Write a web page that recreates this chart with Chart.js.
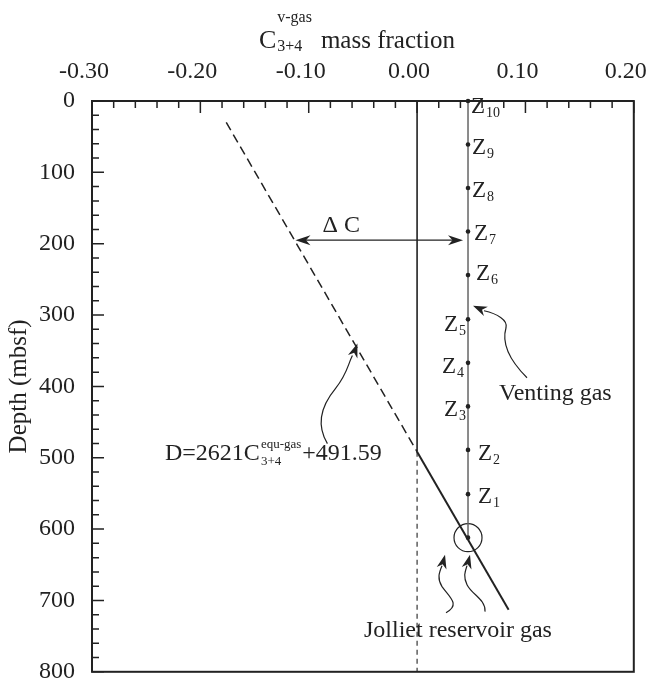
<!DOCTYPE html>
<html>
<head>
<meta charset="utf-8">
<script src="https://cdn.jsdelivr.net/npm/chart.js@4.4.0/dist/chart.umd.min.js"></script>
<style>
  html, body { margin: 0; padding: 0; background: #fff; }
  #wrap { width: 649px; height: 687px; }
</style>
</head>
<body>
<div id="wrap"><canvas id="chart"></canvas></div>
<script>
// venting gas samples Z10 ... Z1, then the reservoir point at the bottom
const ventDepths = [0, 61, 122, 183, 244, 306, 367, 428, 489, 551, 612];
const ventC = [0.047, 0.047, 0.047, 0.047, 0.047, 0.047, 0.047, 0.047, 0.047, 0.047, 0.047];
const zNames = ['10', '9', '8', '7', '6', '5', '4', '3', '2', '1'];
const reservoirDepth = 612;

// equilibrium line: D = 2621 C + 491.59
const eqSlope = 2621;
const eqIntercept = 491.59;
const eqDashedDepths = [30, 491.59];
const eqSolidDepths = [491.59, 713];

// C = 0 reference
const zeroSolidDepths = [0, 491.59];
const zeroDashedDepths = [491.59, 800];

const deltaDepth = 195;
const ventArrowDepth = 287;
const eqArrowDepth = 340;

const xTicks = [-0.30, -0.20, -0.10, 0.00, 0.10, 0.20];
const yTicks = [0, 100, 200, 300, 400, 500, 600, 700, 800];

const eqC = d => (d - eqIntercept) / eqSlope;

const serif = "'Liberation Serif', 'Times New Roman', serif";
const ink = '#222';

// label placement around each Z point (dx, dy in px)
const zOffsets = [[3, 12], [4, 9], [4, 9], [6, 8], [8, 5], [-24, 12], [-26, 10], [-24, 10], [10, 10], [10, 9]];

function head(ctx, tx, ty, fx, fy, len = 14, half = 5) {
  const ang = Math.atan2(ty - fy, tx - fx);
  const c = Math.cos(ang), s = Math.sin(ang);
  ctx.beginPath();
  ctx.moveTo(tx, ty);
  ctx.lineTo(tx - len * c + half * s, ty - len * s - half * c);
  ctx.lineTo(tx - len * 0.7 * c, ty - len * 0.7 * s);
  ctx.lineTo(tx - len * c - half * s, ty - len * s + half * c);
  ctx.closePath();
  ctx.fill();
}

const overlay = {
  id: 'overlay',
  afterDraw(chart) {
    const { ctx, chartArea: a, scales: { x, y } } = chart;
    const X = v => x.getPixelForValue(v);
    const Y = v => y.getPixelForValue(v);
    ctx.save();
    ctx.strokeStyle = ink;
    ctx.fillStyle = ink;

    // frame
    ctx.lineWidth = 2;
    ctx.strokeRect(a.left, a.top, a.right - a.left, a.bottom - a.top);

    // inward ticks, top and left
    ctx.lineWidth = 1.5;
    ctx.beginPath();
    for (let i = 0; i <= 25; i++) {
      const px = X(x.min + i * 0.02);
      ctx.moveTo(px, a.top);
      ctx.lineTo(px, a.top + (i % 5 === 0 ? 12 : 7));
    }
    for (let i = 0; i <= 40; i++) {
      const py = Y(y.min + i * 20);
      ctx.moveTo(a.left, py);
      ctx.lineTo(a.left + (i % 5 === 0 ? 12 : 7), py);
    }
    ctx.stroke();

    ctx.textAlign = 'left';
    ctx.textBaseline = 'alphabetic';

    // axis title with sub/superscript
    let tx = (a.left + a.right) / 2 - 104;
    ctx.font = `26px ${serif}`;
    ctx.fillText('C', tx, 48);
    tx += ctx.measureText('C').width + 1;
    ctx.font = `16px ${serif}`;
    ctx.fillText('v-gas', tx, 22);
    ctx.fillText('3+4', tx, 51);
    const supW = ctx.measureText('v-gas').width;
    ctx.font = `25px ${serif}`;
    ctx.fillText('mass fraction', tx + supW + 9, 48);

    // Z labels
    zNames.forEach((n, i) => {
      const px = X(ventC[i]) + zOffsets[i][0];
      const py = Y(ventDepths[i]) + zOffsets[i][1];
      ctx.font = `23px ${serif}`;
      ctx.fillText('Z', px, py);
      const w = ctx.measureText('Z').width;
      ctx.font = `14px ${serif}`;
      ctx.fillText(n, px + w + 1, py + 4);
    });

    // delta C double arrow
    ctx.lineWidth = 1.3;
    const yd = Y(deltaDepth);
    const xl = X(eqC(deltaDepth)) + 1;
    const xr = X(ventC[3]) - 5;
    ctx.beginPath();
    ctx.moveTo(xl + 8, yd);
    ctx.lineTo(xr - 8, yd);
    ctx.stroke();
    head(ctx, xl, yd, xl + 10, yd, 15, 5);
    head(ctx, xr, yd, xr - 10, yd, 15, 5);
    ctx.font = `24px ${serif}`;
    ctx.fillText('\u0394 C', xl + 27, yd - 8);

    // venting gas pointer
    let T = { x: X(ventC[0]) + 5, y: Y(ventArrowDepth) };
    ctx.lineWidth = 1.2;
    ctx.beginPath();
    ctx.moveTo(T.x + 54, T.y + 72);
    ctx.bezierCurveTo(T.x + 38, T.y + 56, T.x + 28, T.y + 39, T.x + 33, T.y + 22);
    ctx.bezierCurveTo(T.x + 35, T.y + 14, T.x + 24, T.y + 8, T.x + 11, T.y + 5);
    ctx.stroke();
    head(ctx, T.x, T.y, T.x + 14, T.y + 6);
    ctx.font = `24px ${serif}`;
    ctx.fillText('Venting gas', T.x + 26, T.y + 94);

    // equilibrium line pointer and equation
    T = { x: X(eqC(eqArrowDepth)) + 3, y: Y(eqArrowDepth) };
    ctx.beginPath();
    ctx.moveTo(T.x - 30, T.y + 100);
    ctx.bezierCurveTo(T.x - 42, T.y + 80, T.x - 36, T.y + 62, T.x - 22, T.y + 45);
    ctx.bezierCurveTo(T.x - 10, T.y + 30, T.x - 10, T.y + 22, T.x - 5, T.y + 12);
    ctx.stroke();
    head(ctx, T.x, T.y, T.x - 5, T.y + 14);

    let ex = a.left + 73;
    const ey = Y(500) + 2;
    ctx.font = `24px ${serif}`;
    ctx.fillText('D=2621C', ex, ey);
    ex += ctx.measureText('D=2621C').width + 1;
    ctx.font = `13px ${serif}`;
    ctx.fillText('equ-gas', ex, ey - 12);
    ctx.fillText('3+4', ex, ey + 5);
    ex += ctx.measureText('equ-gas').width + 1;
    ctx.font = `24px ${serif}`;
    ctx.fillText('+491.59', ex, ey);

    // reservoir pointers
    const C = { x: X(ventC[10]), y: Y(reservoirDepth) };
    const L = { x: C.x - 23, y: C.y + 17 };
    const R = { x: C.x + 2, y: C.y + 17 };
    ctx.beginPath();
    ctx.moveTo(L.x + 1, L.y + 58);
    ctx.bezierCurveTo(L.x + 16, L.y + 50, L.x + 4, L.y + 42, L.x - 3, L.y + 32);
    ctx.bezierCurveTo(L.x - 8, L.y + 24, L.x - 6, L.y + 18, L.x - 3, L.y + 11);
    ctx.moveTo(R.x + 15, R.y + 57);
    ctx.bezierCurveTo(R.x + 16, R.y + 45, R.x + 2, R.y + 40, R.x - 3, R.y + 30);
    ctx.bezierCurveTo(R.x - 7, R.y + 22, R.x - 5, R.y + 17, R.x - 3, R.y + 11);
    ctx.stroke();
    head(ctx, L.x, L.y, L.x - 3, L.y + 12);
    head(ctx, R.x, R.y, R.x - 3, R.y + 12);
    ctx.fillText('Jolliet reservoir gas', C.x - 104, C.y + 99);

    ctx.restore();
  }
};

const line = (pts, extra) => Object.assign({
  data: pts, showLine: true, borderColor: ink, borderWidth: 1.5,
  pointRadius: 0, fill: false
}, extra);

new Chart(document.getElementById('chart'), {
  type: 'scatter',
  data: {
    datasets: [
      line(zeroSolidDepths.map(d => ({ x: 0, y: d })), { borderWidth: 1.6 }),
      line(zeroDashedDepths.map(d => ({ x: 0, y: d })), { borderWidth: 1.1, borderDash: [5, 4] }),
      line(eqDashedDepths.map(d => ({ x: eqC(d), y: d })), { borderWidth: 1.5, borderDash: [9, 5] }),
      line(eqSolidDepths.map(d => ({ x: eqC(d), y: d })), { borderWidth: 2 }),
      line(ventDepths.map((d, i) => ({ x: ventC[i], y: d })), {
        borderColor: '#666', borderWidth: 1.5, clip: false,
        pointRadius: 2.3, pointBackgroundColor: ink, pointBorderWidth: 0
      }),
      {
        data: [{ x: ventC[10], y: reservoirDepth }], showLine: false,
        pointRadius: 14, pointBorderColor: ink, pointBorderWidth: 1.2,
        pointBackgroundColor: 'rgba(0,0,0,0)'
      }
    ]
  },
  options: {
    responsive: true,
    maintainAspectRatio: false,
    animation: false,
    events: [],
    layout: { padding: { top: 0, left: 0, right: 13, bottom: 15 } },
    plugins: { legend: { display: false }, tooltip: { enabled: false } },
    scales: {
      x: {
        type: 'linear', position: 'top', min: -0.3, max: 0.2,
        afterBuildTicks: s => { s.ticks = xTicks.map(v => ({ value: v })); },
        afterFit: s => { s.height = 101; s.paddingLeft = 0; s.paddingRight = 0; },
        grid: { display: false }, border: { display: false },
        ticks: {
          font: { family: serif, size: 24 }, color: ink, padding: 7,
          labelOffset: -8, maxRotation: 0, autoSkip: false,
          callback: v => Number(v).toFixed(2)
        }
      },
      y: {
        type: 'linear', reverse: true, min: 0, max: 800,
        afterBuildTicks: s => { s.ticks = yTicks.map(v => ({ value: v })); },
        afterFit: s => { s.width = 92; s.paddingTop = 0; s.paddingBottom = 0; },
        grid: { display: false }, border: { display: false },
        ticks: { font: { family: serif, size: 24 }, color: ink, padding: 9, autoSkip: false },
        title: {
          display: true, text: 'Depth (mbsf)', color: ink,
          font: { family: serif, size: 25 }, padding: { top: 4, bottom: 0 }
        }
      }
    }
  },
  plugins: [overlay]
});
</script>
</body>
</html>
